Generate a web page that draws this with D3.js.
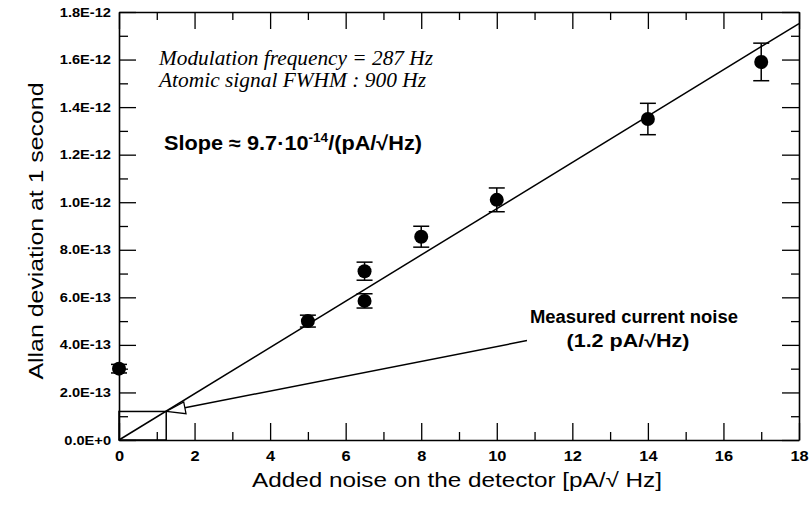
<!DOCTYPE html>
<html>
<head>
<meta charset="utf-8">
<script src="https://cdn.jsdelivr.net/npm/d3@7"></script>
<style>
  html, body { margin: 0; padding: 0; background: #fff; }
</style>
</head>
<body>
<div id="chart"></div>
<script>
// ── Data ─────────────────────────────────────────
const NOISE_X   = [0, 5, 6.5, 6.5, 8, 10, 14, 17];                 // pA/√Hz
const ALLAN_DEV = [3.0e-13, 5.0e-13, 7.1e-13, 5.85e-13, 8.55e-13, 1.01e-12, 1.35e-12, 1.59e-12];
const ALLAN_ERR = [0.18e-13, 0.25e-13, 0.38e-13, 0.30e-13, 0.44e-13, 0.50e-13, 0.66e-13, 0.79e-13];

const FIT_SLOPE = 9.73e-14;        // per pA/√Hz
const FIT_RANGE = [0, 18];

const MEASURED_NOISE = [1.25, 1.2e-13];     // marked point on the fit
const ANNOT_END      = [10.8, 4.18e-13];    // where the pointer line meets the label

const X_TICKS  = [0, 2, 4, 6, 8, 10, 12, 14, 16, 18];
const X_MINOR  = [1, 3, 5, 7, 9, 11, 13, 15, 17];
const Y_TICKS  = [0, 2e-13, 4e-13, 6e-13, 8e-13, 1e-12, 1.2e-12, 1.4e-12, 1.6e-12, 1.8e-12];
const Y_TICK_LABELS = ["0.0E+0","2.0E-13","4.0E-13","6.0E-13","8.0E-13",
                       "1.0E-12","1.2E-12","1.4E-12","1.6E-12","1.8E-12"];
const Y_MINOR  = [1e-13, 3e-13, 5e-13, 7e-13, 9e-13, 1.1e-12, 1.3e-12, 1.5e-12, 1.7e-12];

// ── Layout ───────────────────────────────────────
const W = 809, H = 506;
const margin = { top: 12, right: 10, bottom: 66, left: 119 };
const SANS  = "'Liberation Sans', Arial, sans-serif";
const SERIF = "'Liberation Serif', 'Times New Roman', serif";
const STRETCH = 1.17;   // the original figure is a bit wider than tall

const svg = d3.select("#chart").append("svg")
  .attr("width", W).attr("height", H);

const x = d3.scaleLinear().domain([0, 18]).range([margin.left, W - margin.right]);
const y = d3.scaleLinear().domain([0, 1.8e-12]).range([H - margin.bottom, margin.top]);

// widen text horizontally to mimic the stretched original
function stretch(sel, k) {
  sel.each(function () {
    const len = this.getComputedTextLength();
    d3.select(this).attr("textLength", len * k).attr("lengthAdjust", "spacingAndGlyphs");
  });
}

function styleAxis(g, keepDomain) {
  if (keepDomain) g.select(".domain").attr("stroke", "#000").attr("stroke-width", 1.6);
  else g.select(".domain").remove();
  g.selectAll(".tick line").attr("stroke", "#000").attr("stroke-width", 1.3);
  g.selectAll("text")
    .attr("font-family", SANS).attr("font-weight", "bold").attr("fill", "#000");
}

// ── Axes (ticks point inward on all four sides) ──
const gx = svg.append("g")
  .attr("transform", `translate(0,${y(0)})`)
  .call(d3.axisBottom(x).tickValues(X_TICKS).tickSize(-17).tickSizeOuter(0)
    .tickPadding(11).tickFormat(d3.format("d")));
styleAxis(gx, true);
gx.selectAll("text").attr("font-size", "14px");
stretch(gx.selectAll("text"), STRETCH);

svg.append("g").attr("transform", `translate(0,${y(0)})`)
  .call(d3.axisBottom(x).tickValues(X_MINOR).tickSize(-8).tickFormat(""))
  .call(g => styleAxis(g, false));

svg.append("g").attr("transform", `translate(0,${y(1.8e-12)})`)
  .call(d3.axisTop(x).tickValues(X_TICKS).tickSize(-17).tickSizeOuter(0).tickFormat(""))
  .call(g => styleAxis(g, true));
svg.append("g").attr("transform", `translate(0,${y(1.8e-12)})`)
  .call(d3.axisTop(x).tickValues(X_MINOR).tickSize(-8).tickFormat(""))
  .call(g => styleAxis(g, false));

const gy = svg.append("g")
  .attr("transform", `translate(${x(0)},0)`)
  .call(d3.axisLeft(y).tickValues(Y_TICKS).tickSize(-17).tickSizeOuter(0)
    .tickPadding(8).tickFormat((d, i) => Y_TICK_LABELS[i]));
styleAxis(gy, true);
gy.selectAll("text").attr("font-size", "12.5px");
stretch(gy.selectAll("text"), STRETCH);

svg.append("g").attr("transform", `translate(${x(0)},0)`)
  .call(d3.axisLeft(y).tickValues(Y_MINOR).tickSize(-9).tickFormat(""))
  .call(g => styleAxis(g, false));

svg.append("g").attr("transform", `translate(${x(18)},0)`)
  .call(d3.axisRight(y).tickValues(Y_TICKS).tickSize(-17).tickSizeOuter(0).tickFormat(""))
  .call(g => styleAxis(g, true));
svg.append("g").attr("transform", `translate(${x(18)},0)`)
  .call(d3.axisRight(y).tickValues(Y_MINOR).tickSize(-8).tickFormat(""))
  .call(g => styleAxis(g, false));

// ── Axis titles ──────────────────────────────────
svg.append("text")
  .attr("x", 252).attr("y", 487)
  .attr("font-family", SANS).attr("font-size", "20px").attr("fill", "#000")
  .attr("textLength", 410).attr("lengthAdjust", "spacingAndGlyphs")
  .text("Added noise on the detector [pA/\u221A Hz]");

svg.append("text")
  .attr("transform", "translate(43,231) rotate(-90)")
  .attr("text-anchor", "middle")
  .attr("font-family", SANS).attr("font-size", "21px").attr("fill", "#000")
  .attr("textLength", 297).attr("lengthAdjust", "spacingAndGlyphs")
  .text("Allan deviation at 1 second");

// ── Linear fit ───────────────────────────────────
svg.append("line")
  .attr("x1", x(FIT_RANGE[0])).attr("y1", y(FIT_SLOPE * FIT_RANGE[0]))
  .attr("x2", x(FIT_RANGE[1])).attr("y2", y(FIT_SLOPE * FIT_RANGE[1]))
  .attr("stroke", "#000").attr("stroke-width", 1.5);

// ── Measured current noise marker ────────────────
svg.append("rect")
  .attr("x", x(0)).attr("y", y(MEASURED_NOISE[1]))
  .attr("width", x(MEASURED_NOISE[0]) - x(0))
  .attr("height", y(0) - y(MEASURED_NOISE[1]))
  .attr("fill", "none").attr("stroke", "#000").attr("stroke-width", 1.5);

const tipX = x(MEASURED_NOISE[0]), tipY = y(MEASURED_NOISE[1]);
const endX = x(ANNOT_END[0]),      endY = y(ANNOT_END[1]);
const ang  = Math.atan2(endY - tipY, endX - tipX);
const headLen = 19, headHalf = 6;
const bx = tipX + headLen * Math.cos(ang), by = tipY + headLen * Math.sin(ang);
const px = -Math.sin(ang) * headHalf,     py = Math.cos(ang) * headHalf;

svg.append("line")
  .attr("x1", bx).attr("y1", by).attr("x2", endX).attr("y2", endY)
  .attr("stroke", "#000").attr("stroke-width", 1.5);
svg.append("path")
  .attr("d", `M${tipX},${tipY}L${bx + px},${by + py}L${bx - px},${by - py}Z`)
  .attr("fill", "#fff").attr("stroke", "#000").attr("stroke-width", 1.3);

// ── Error bars + points ──────────────────────────
const pts = NOISE_X.map((v, i) => ({ x: v, y: ALLAN_DEV[i], e: ALLAN_ERR[i] }));
const capW = 8;

const eb = svg.append("g").attr("stroke", "#000").attr("stroke-width", 1.5);
eb.selectAll(".stem").data(pts).join("line")
  .attr("x1", d => x(d.x)).attr("x2", d => x(d.x))
  .attr("y1", d => y(d.y - d.e)).attr("y2", d => y(d.y + d.e));
eb.selectAll(".capTop").data(pts).join("line")
  .attr("x1", d => x(d.x) - capW).attr("x2", d => x(d.x) + capW)
  .attr("y1", d => y(d.y + d.e)).attr("y2", d => y(d.y + d.e));
eb.selectAll(".capBot").data(pts).join("line")
  .attr("x1", d => x(d.x) - capW).attr("x2", d => x(d.x) + capW)
  .attr("y1", d => y(d.y - d.e)).attr("y2", d => y(d.y - d.e));

svg.append("g").selectAll("circle").data(pts).join("circle")
  .attr("cx", d => x(d.x)).attr("cy", d => y(d.y))
  .attr("r", 7).attr("fill", "#000");

// ── Text annotations ─────────────────────────────
const it = svg.append("g")
  .attr("font-family", SERIF).attr("font-style", "italic")
  .attr("font-size", "20px").attr("fill", "#000")
  .attr("lengthAdjust", "spacingAndGlyphs");
it.append("text").attr("x", 159).attr("y", 65).attr("textLength", 274)
  .attr("lengthAdjust", "spacingAndGlyphs").text("Modulation frequency = 287 Hz");
it.append("text").attr("x", 159).attr("y", 87).attr("textLength", 267)
  .attr("lengthAdjust", "spacingAndGlyphs").text("Atomic signal FWHM : 900 Hz");

const slope = svg.append("text")
  .attr("x", 164).attr("y", 150)
  .attr("font-family", SANS).attr("font-weight", "bold")
  .attr("font-size", "20px").attr("fill", "#000");
slope.append("tspan").text("Slope \u2248 9.7\u00B710");
slope.append("tspan").attr("font-size", "12.5px").attr("dy", -8).text("-14");
slope.append("tspan").attr("dy", 8).text("/(pA/\u221AHz)");
stretch(slope, 258 / slope.node().getComputedTextLength());

const ann = svg.append("g")
  .attr("font-family", SANS).attr("font-weight", "bold")
  .attr("font-size", "17.5px").attr("fill", "#000")
  .attr("text-anchor", "middle");
const ann1 = ann.append("text").attr("x", 634).attr("y", 323).text("Measured current noise");
const ann2 = ann.append("text").attr("x", 628).attr("y", 347).text("(1.2 pA/\u221AHz)");
stretch(ann1, 208 / ann1.node().getComputedTextLength());
stretch(ann2, 123 / ann2.node().getComputedTextLength());
</script>
</body>
</html>
